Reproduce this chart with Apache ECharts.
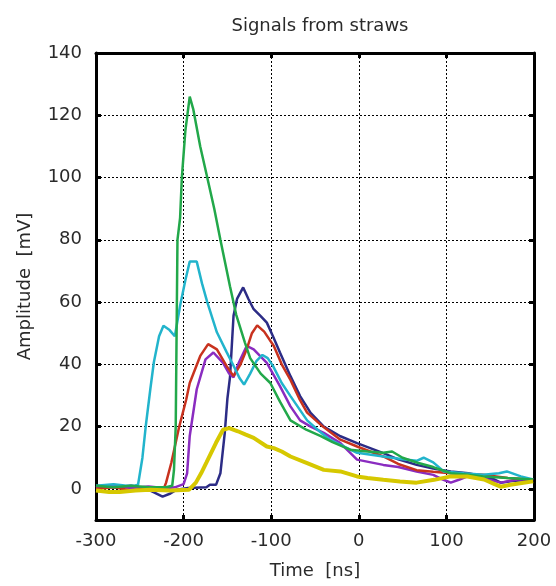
<!DOCTYPE html>
<html>
<head>
<meta charset="utf-8">
<script src="https://cdn.jsdelivr.net/npm/echarts@6/dist/echarts.min.js"></script>
<style>
html,body{margin:0;padding:0;background:#fff;}
#chart{width:556px;height:586px;}
</style>
</head>
<body>
<div id="chart"></div>
<script>
// Title and axis texts
var chartTitle = 'Signals from straws';
var xName = 'Time  [ns]';
var yName = 'Amplitude  [mV]';

// Axis ranges and ticks
var xTicks = [-300, -200, -100, 0, 100, 200];
var yTicks = [0, 20, 40, 60, 80, 100, 120, 140];

// Series: [time ns, amplitude mV]
var navyData = [[-300,1],[-280,0.5],[-260,1],[-245,0.3],[-235,-1],[-224,-2.5],[-215,-1.5],[-208,-0.3],[-195,0.3],[-174,0.5],[-170,1.3],[-163,1.3],[-158,5],[-153,18],[-150,29],[-147,36],[-143,55.6],[-139,61],[-132,64.7],[-126,61],[-120,57.7],[-112,55.5],[-105,53.4],[-98,49],[-90,43.8],[-78,36.2],[-67,29.8],[-55,24.4],[-40,20],[-21,16.9],[-2,14.7],[28,11.5],[45,9.5],[66,7.7],[85,6.5],[105,5.6],[125,5],[142,4],[155,3],[162,2],[175,2.5],[199,3]];
var purpleData = [[-300,0.5],[-280,1],[-260,0.3],[-240,0.8],[-220,0.2],[-210,0.5],[-200,1.5],[-196,5],[-193,17],[-185,32],[-175,41.6],[-166,43.8],[-155,40.5],[-148,37],[-143,35.8],[-137,40.5],[-128,45.9],[-120,44.8],[-105,40.5],[-90,33],[-78,26.5],[-67,22],[-55,20],[-40,18],[-21,14.7],[-2,9.4],[28,7.7],[45,7],[66,5.6],[85,4.5],[96,3],[105,2],[115,3],[124,4],[140,3.5],[162,2],[181,3],[199,3]];
var redData = [[-300,0],[-280,0.5],[-260,-0.5],[-240,0.3],[-230,0],[-222,0.5],[-220,2],[-214,8.4],[-205,20],[-197,28.7],[-193,34],[-181,42.7],[-172,46.5],[-162,44.8],[-151,39.5],[-143,36.2],[-135,40],[-128,44.8],[-122,50],[-116,52.5],[-108,50.5],[-97,45.9],[-88,40],[-78,35],[-68,29],[-59,24.5],[-41,20],[-21,15.8],[-2,13.6],[28,10.4],[45,8],[66,6],[85,5.5],[105,5],[125,4.8],[142,4.5],[170,3.5],[199,3]];
var cyanData = [[-300,1],[-280,1.5],[-265,1],[-256,1],[-252,1.3],[-247,10],[-243,20.6],[-238,32],[-234,40.6],[-228,49],[-223,52.4],[-216,51],[-210,49],[-204,58.8],[-198,67],[-193,73],[-185,73],[-179,66],[-173,60],[-162,50.3],[-151,44],[-142,39],[-136,35.5],[-131,33.5],[-124,37],[-117,41],[-110,43],[-104,42],[-98,39.5],[-88,34],[-78,29.8],[-59,22],[-45,18.5],[-33,15.8],[-2,11.6],[28,10.4],[50,9.5],[66,9],[74,10],[85,8.5],[97,5.6],[120,5],[142,4.5],[160,5],[169,5.6],[185,4],[199,3]];
var greenData = [[-300,1],[-280,0.5],[-260,1],[-240,0.5],[-220,0.5],[-213,1],[-211,6],[-209,20],[-207,80],[-204,87],[-202,100],[-198,115],[-193,126],[-189,122],[-181,110],[-173,100],[-165,90],[-158,80],[-147,65],[-140,56],[-130,47],[-124,42],[-112,37],[-101,34],[-90,28],[-78,22],[-60,19],[-44,17],[-30,15],[-10,12.6],[10,12],[28,11.6],[38,12],[50,10],[67,8.4],[85,7],[105,5],[125,4.5],[142,4],[170,3.5],[199,3]];
var yellowData = [[-300,-0.5],[-285,-1],[-273,-1],[-255,-0.5],[-238,-0.3],[-215,-0.5],[-194,-0.3],[-186,2],[-180,5],[-174,8.4],[-163,14.8],[-155,19],[-148,19.5],[-138,18.5],[-129,17.4],[-120,16.4],[-105,13.6],[-97,13.1],[-88,12],[-78,10.4],[-59,8.3],[-40,6.1],[-21,5.6],[-2,4],[10,3.5],[28,2.9],[47,2.4],[66,2],[86,2.9],[105,4],[124,4],[143,3],[155,1.5],[162,0.7],[173,1.3],[199,2.4]];

var seriesNames = ['navy', 'purple', 'red', 'cyan', 'green', 'yellow'];
var seriesData = [navyData, purpleData, redData, cyanData, greenData, yellowData];
var seriesColors = ['#2c2c86', '#8a2cc0', '#c8321e', '#22b4cc', '#22a84a', '#d6c800'];
var seriesWidths = [2.5, 2.5, 2.5, 2.5, 2.5, 4];

var chart = echarts.init(document.getElementById('chart'), null, {renderer: 'canvas'});
var font = 'DejaVu Sans';
var txtColor = '#2a2a2a';

var gridLine = {show: true, lineStyle: {color: '#000', width: 1, type: [2, 2]}};
var frameLine = {show: true, onZero: false, lineStyle: {color: '#000', width: 3}};
var tickStyle = {show: true, inside: true, length: 5, lineStyle: {color: '#000', width: 3}};

var series = seriesData.map(function (d, i) {
  return {
    name: seriesNames[i],
    type: 'line',
    data: d,
    showSymbol: false,
    symbol: 'none',
    smooth: false,
    animation: false,
    clip: true,
    lineStyle: {color: seriesColors[i], width: seriesWidths[i]},
    itemStyle: {color: seriesColors[i]}
  };
});

chart.setOption({
  backgroundColor: '#fff',
  animation: false,
  title: {
    text: chartTitle,
    left: 315,
    textAlign: 'center',
    top: 12,
    textStyle: {fontFamily: font, fontSize: 18, fontWeight: 'normal', color: txtColor}
  },
  grid: {left: 96, right: 22, top: 53, bottom: 66, containLabel: false},
  xAxis: [{
    type: 'value',
    position: 'bottom',
    min: -300, max: 200, interval: 100,
    name: xName,
    nameLocation: 'middle',
    nameGap: 42,
    nameTextStyle: {fontFamily: font, fontSize: 18, color: txtColor},
    axisLine: frameLine,
    axisTick: tickStyle,
    axisLabel: {fontFamily: font, fontSize: 18, color: txtColor, margin: 12, customValues: xTicks},
    splitLine: gridLine
  }, {
    type: 'value',
    position: 'top',
    min: -300, max: 200, interval: 100,
    axisLine: frameLine,
    axisTick: tickStyle,
    axisLabel: {show: false},
    splitLine: {show: false}
  }],
  yAxis: [{
    type: 'value',
    position: 'left',
    min: -10, max: 140,
    name: yName,
    nameLocation: 'middle',
    nameGap: 62,
    nameTextStyle: {fontFamily: font, fontSize: 18, color: txtColor},
    axisLine: frameLine,
    axisTick: Object.assign({}, tickStyle, {customValues: yTicks}),
    axisLabel: {fontFamily: font, fontSize: 18, color: txtColor, margin: 14, customValues: yTicks},
    splitLine: gridLine
  }, {
    type: 'value',
    position: 'right',
    min: -10, max: 140,
    axisLine: frameLine,
    axisTick: Object.assign({}, tickStyle, {customValues: yTicks}),
    axisLabel: {show: false},
    splitLine: {show: false}
  }],
  series: series
});
</script>
</body>
</html>
